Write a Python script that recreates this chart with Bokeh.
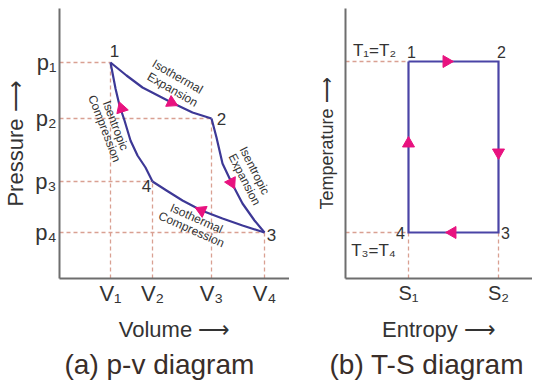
from bokeh.plotting import figure
from bokeh.layouts import row
from bokeh.models import Range1d, FixedTicker, Title
from bokeh.core.properties import value
from bokeh.embed import file_html
from bokeh.resources import INLINE
import math

# ---------------- p-v diagram data ----------------
V = [1.02, 1.86, 3.04, 4.10]          # V1..V4
P = [4.32, 3.20, 1.94, 0.92]          # p1..p4
V_labels = ["V₁", "V₂", "V₃", "V₄"]
P_labels = ["p₁", "p₂", "p₃", "p₄"]

state_names = ["1", "2", "3", "4"]
state_V = [1.02, 3.04, 4.10, 1.86]
state_p = [4.32, 3.20, 0.92, 1.94]

iso_exp_V = [1.02, 1.34, 1.66, 2.24, 2.66, 3.04]
iso_exp_p = [4.32, 4.06, 3.82, 3.52, 3.32, 3.20]
isen_exp_V = [3.04, 3.14, 3.26, 3.44, 3.66, 3.90, 4.10]
isen_exp_p = [3.20, 2.82, 2.30, 1.92, 1.50, 1.16, 0.92]
iso_comp_V = [4.10, 3.66, 3.26, 2.84, 2.46, 2.14, 1.86]
iso_comp_p = [0.92, 1.06, 1.20, 1.36, 1.56, 1.76, 1.94]
isen_comp_V = [1.86, 1.72, 1.56, 1.42, 1.30, 1.20, 1.12, 1.02]
isen_comp_p = [1.94, 2.22, 2.46, 2.76, 3.16, 3.46, 3.80, 4.32]

pv_arrow_V = [2.24, 1.24, 3.44, 2.84]
pv_arrow_p = [3.52, 3.40, 1.92, 1.36]
pv_arrow_deg = [-116.6, 18.0, -153.4, 65.8]

pv_notes = ["Isothermal", "Expansion", "Isentropic", "Compression",
            "Isentropic", "Expansion", "Isothermal", "Compression"]
pv_note_V = [2.36, 2.26, 1.12, 0.90, 3.90, 3.70, 2.74, 2.64]
pv_note_p = [4.04, 3.78, 3.06, 3.00, 2.16, 1.98, 1.20, 0.98]
pv_note_deg = [-30, -30, -69, -69, -63, -63, -24, -24]

# ---------------- T-S diagram data ----------------
S = [1.26, 3.06]                      # S1, S2
T = [4.34, 0.92]                      # T1=T2, T3=T4
S_labels = ["S₁", "S₂"]
ts_state_S = [1.26, 3.06, 3.06, 1.26]
ts_state_T = [4.34, 4.34, 0.92, 0.92]
ts_arrow_S = [2.02, 3.06, 2.14, 1.26]
ts_arrow_T = [4.34, 2.52, 0.92, 2.70]
ts_arrow_deg = [-90, 180, 90, 0]

FONT = "Liberation Sans"
CURVE = "#3d3896"
ARROW = "#e8127f"
DASH = "#d9a092"
TXT = "#333333"
AXIS = "#6e6e6e"
TOP = 8
BOTTOM = 109


def base_style(p):
    p.grid.visible = False
    p.outline_line_color = None
    p.background_fill_color = "white"
    p.border_fill_color = "white"
    p.title_location = None
    for ax in (p.xaxis[0], p.yaxis[0]):
        ax.axis_line_color = AXIS
        ax.axis_line_width = 2
        ax.major_tick_line_color = None
        ax.minor_tick_line_color = None
        ax.major_tick_out = 0
        ax.major_tick_in = 0
        ax.major_label_text_font = FONT
        ax.major_label_text_color = TXT
        ax.axis_label_text_font = FONT
        ax.axis_label_text_color = TXT
        ax.axis_label_text_font_style = "normal"


# ================= (a) p-v =================
p1 = figure(frame_width=230, frame_height=270, x_range=Range1d(0, 4.6), y_range=Range1d(0, 5.4),
            output_backend="svg", toolbar_location=None,
            min_border_left=52, min_border_right=0, min_border_top=TOP, min_border_bottom=BOTTOM)
base_style(p1)
p1.xaxis[0].ticker = FixedTicker(ticks=V)
p1.xaxis[0].major_label_overrides = {v: l for v, l in zip(V, V_labels)}
p1.yaxis[0].ticker = FixedTicker(ticks=P)
p1.yaxis[0].major_label_overrides = {v: l for v, l in zip(P, P_labels)}
p1.xaxis[0].major_label_text_font_size = "22px"
p1.yaxis[0].major_label_text_font_size = "22px"
p1.xaxis[0].major_label_standoff = 2
p1.yaxis[0].major_label_standoff = 3
p1.xaxis[0].axis_label = "Volume ⟶"
p1.yaxis[0].axis_label = "Pressure ⟶"
p1.xaxis[0].axis_label_text_font_size = "22px"
p1.yaxis[0].axis_label_text_font_size = "22px"
p1.xaxis[0].axis_label_standoff = 8
p1.yaxis[0].axis_label_standoff = 4

# dashed guides
p1.segment(x0=[0, 0, 0, 0], y0=P, x1=[V[0], V[2], V[1], V[3]], y1=P,
           line_color=DASH, line_dash="4 3", line_width=1.3)
p1.segment(x0=V, y0=[0, 0, 0, 0], x1=V, y1=[P[0], P[2], P[1], P[3]],
           line_color=DASH, line_dash="4 3", line_width=1.3)

for xs, ys in ((iso_exp_V, iso_exp_p), (isen_exp_V, isen_exp_p),
               (iso_comp_V, iso_comp_p), (isen_comp_V, isen_comp_p)):
    p1.line(xs, ys, line_color=CURVE, line_width=2.2, line_join="round")

p1.scatter(pv_arrow_V, pv_arrow_p, marker="triangle", size=12,
           angle=[math.radians(a) for a in pv_arrow_deg],
           fill_color=ARROW, line_color=ARROW)

p1.text(state_V, state_p, text=state_names, x_offset=[4, 10, 7, -6], y_offset=[-12, 0, 2, 4],
        text_font=value(FONT), text_font_size="17px", text_color=TXT,
        text_align="center", text_baseline="middle")

p1.text(pv_note_V, pv_note_p, text=pv_notes, angle=[math.radians(a) for a in pv_note_deg],
        text_font=value(FONT), text_font_size="12px", text_color=TXT,
        text_align="center", text_baseline="middle")

p1.add_layout(Title(text="(a) p-v diagram", align="left", offset=5, standoff=5,
                    text_font_size="28px", text_font_style="normal",
                    text_font=FONT, text_color="#3a2e29"), "below")

# ================= (b) T-S =================
p2 = figure(frame_width=187, frame_height=270, x_range=Range1d(0, 3.74), y_range=Range1d(0, 5.4),
            output_backend="svg", toolbar_location=None,
            min_border_left=56, min_border_right=0, min_border_top=TOP, min_border_bottom=BOTTOM)
base_style(p2)
p2.xaxis[0].ticker = FixedTicker(ticks=S)
p2.xaxis[0].major_label_overrides = {v: l for v, l in zip(S, S_labels)}
p2.xaxis[0].major_label_text_font_size = "20px"
p2.xaxis[0].major_label_standoff = 3
p2.yaxis[0].ticker = FixedTicker(ticks=[])
p2.yaxis[0].major_label_text_font_size = "0px"
p2.xaxis[0].axis_label = "Entropy ⟶"
p2.yaxis[0].axis_label = "Temperature ⟶"
p2.xaxis[0].axis_label_text_font_size = "22px"
p2.yaxis[0].axis_label_text_font_size = "18px"
p2.xaxis[0].axis_label_standoff = 10
p2.yaxis[0].axis_label_standoff = 9

p2.segment(x0=[0, 0], y0=T, x1=[S[0], S[0]], y1=T,
           line_color=DASH, line_dash="4 3", line_width=1.3)
p2.segment(x0=S, y0=[0, 0], x1=S, y1=[T[1], T[1]],
           line_color=DASH, line_dash="4 3", line_width=1.3)

p2.line(ts_state_S + [ts_state_S[0]], ts_state_T + [ts_state_T[0]],
        line_color="#4a44a6", line_width=2.2, line_join="miter")
p2.scatter(ts_arrow_S, ts_arrow_T, marker="triangle", size=12,
           angle=[math.radians(a) for a in ts_arrow_deg],
           fill_color=ARROW, line_color=ARROW)
p2.text(ts_state_S, ts_state_T, text=state_names, x_offset=[3, 3, 7, -8], y_offset=[-10, -10, 0, 0],
        text_font=value(FONT), text_font_size="16px", text_color=TXT,
        text_align="center", text_baseline="middle")
p2.text([0.58, 0.56], [4.56, 0.56], text=["T₁=T₂", "T₃=T₄"],
        text_font=value(FONT), text_font_size="17px", text_color=TXT,
        text_align="center", text_baseline="middle")

p2.add_layout(Title(text="(b) T-S diagram", align="left", offset=-16, standoff=5,
                    text_font_size="28px", text_font_style="normal",
                    text_font=FONT, text_color="#3a2e29"), "below")

layout = row(p1, p2)
open("out.html", "w").write(file_html(layout, INLINE))
